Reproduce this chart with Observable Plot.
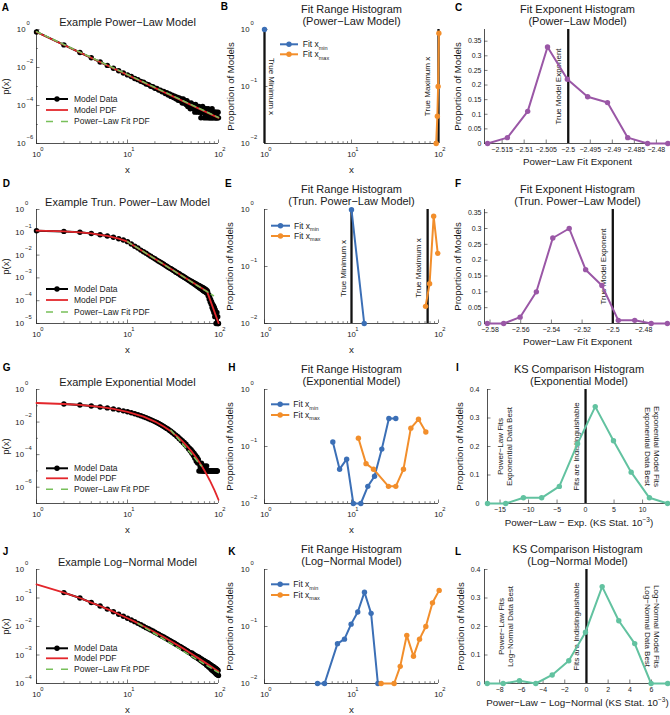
<!DOCTYPE html>
<html><head><meta charset="utf-8">
<script src="https://cdn.jsdelivr.net/npm/d3@7"></script>
<script src="https://cdn.jsdelivr.net/npm/@observablehq/plot@0.6"></script>
<style>
html,body{margin:0;padding:0;background:#fff;overflow:hidden;}
#fig{position:relative;width:670px;height:715px;overflow:hidden;background:#fff;}
</style></head><body><div id="fig"></div>
<script>
// ---------------- DATA ----------------
const intX = d3.range(1, 101); // bin x = 1..100

// A: power-law model (log10 p), null = empty bin
const aLogP = [-0.13,-0.81,-1.21,-1.49,-1.71,-1.89,-2.04,-2.17,-2.29,-2.39,
-2.47,-2.58,-2.64,-2.73,-2.78,-2.87,-2.90,-2.99,-3.01,-3.09,
-3.10,-3.19,-3.19,-3.28,-3.26,-3.37,-3.33,-3.45,-3.39,-3.52,
-3.46,-3.58,-3.51,-3.65,-3.56,-3.72,-3.60,-3.75,-3.65,-3.87,
-3.65,-3.87,-3.75,-3.95,-3.75,-4.05,-3.87,-3.95,-4.17,-3.87,
-4.05,-3.95,-4.17,-4.05,-4.35,-3.95,-4.17,-4.05,-4.35,-4.17,
-4.05,-4.35,-4.17,-4.65,-4.17,-4.35,-4.05,-4.35,-4.65,-4.17,
-4.35,-4.65,-4.17,-4.35,-4.65,-4.35,-4.17,-4.65,-4.35,-4.65,
-4.35,-4.65,-4.35,-4.65,-4.17,-4.65,-4.35,-4.65,null,-4.35,
-4.65,-4.35,-4.65,-4.65,-4.35,-4.65,null,-4.65,-4.35,-4.65];
const aPdfX = [1, 100], aPdfLogP = [-0.13, -4.65];
const aFitX = [1, 100], aFitLogP = [-0.11, -4.63];

// D: truncated power-law model
const dLogP = [-0.93,-0.96,-1.00,-1.05,-1.11,-1.16,-1.22,-1.28,-1.34,-1.41,
-1.51,-1.61,-1.69,-1.78,-1.85,-1.92,-1.99,-2.05,-2.11,-2.16,
-2.22,-2.27,-2.31,-2.36,-2.40,-2.45,-2.49,-2.53,-2.57,-2.60,
-2.63,-2.68,-2.70,-2.75,-2.76,-2.81,-2.82,-2.87,-2.88,-2.93,
-2.93,-2.98,-2.98,-3.03,-3.03,-3.08,-3.08,-3.13,-3.12,-3.18,
-3.16,-3.22,-3.20,-3.27,-3.23,-3.31,-3.27,-3.36,-3.31,-3.40,
-3.33,-3.44,-3.36,-3.48,-3.40,-3.52,-3.42,-3.56,-3.45,-3.60,
-3.48,-3.62,-3.52,-3.66,-3.56,-3.62,-3.78,-3.74,-3.92,-3.85,
-4.05,-3.96,-4.15,-4.05,-4.30,-4.15,-4.40,-4.22,-4.52,-4.30,
-4.70,-4.40,-4.52,-5.00,-4.70,-4.52,-5.00,-4.70,-5.00,-5.00];
const dPdfX = [1,2,3,4,5,6,7,8,9,10,75,100];
const dPdfLogP = [-0.93,-0.96,-1.00,-1.05,-1.11,-1.16,-1.22,-1.28,-1.34,-1.41,-3.60,-4.98];
const dFitX = [10, 88], dFitLogP = [-1.41, -3.78];

// G: exponential model
const gLogP = [null,-0.89,-0.95,-1.01,-1.07,-1.13,-1.19,-1.25,-1.31,-1.37,
-1.43,-1.49,-1.55,-1.61,-1.67,-1.73,-1.79,-1.85,-1.91,-1.97,
-2.03,-2.09,-2.15,-2.21,-2.27,-2.33,-2.39,-2.44,-2.52,-2.56,
-2.64,-2.68,-2.77,-2.80,-2.89,-2.91,-3.02,-3.03,-3.14,-3.15,
-3.27,-3.25,-3.40,-3.36,-3.52,-3.49,-3.65,-3.60,-3.77,-3.70,
-3.92,-3.82,-4.05,-3.92,-4.22,-4.05,-4.40,-4.15,-4.52,-4.30,
-5.00,-4.52,-4.70,-5.00,-4.52,-5.00,-4.70,-5.00,-5.00,-4.70,
-5.00,-5.00,null,-4.70,-5.00,null,-5.00,-5.00,null,-5.00,
-5.00,null,-5.00,-5.00,null,-5.00,null,-5.00,-5.00,null,
-5.00,null,-5.00,null,-5.00,-5.00,-5.00,null,null,null];
const gPdfX = [1,2,3,5,7,10,15,20,25,30,35,40,45,50,55,60,65,70,75,80,85,90,95,100];
const gPdfLogP = [-0.83,-0.89,-0.95,-1.07,-1.19,-1.37,-1.67,-1.97,-2.27,-2.57,-2.87,-3.17,-3.47,-3.77,-4.07,-4.37,-4.67,-4.97,-5.27,-5.57,-5.87,-6.17,-6.47,-6.77];
const gFitX = [30, 65], gFitLogP = [-2.50, -4.70];

// J: log-normal model
const jLogP = [null,-0.81,-1.00,-1.16,-1.28,-1.39,-1.48,-1.57,-1.64,-1.71,
-1.77,-1.83,-1.89,-1.94,-1.99,-2.04,-2.08,-2.12,-2.16,-2.20,
-2.24,-2.27,-2.31,-2.34,-2.37,-2.40,-2.43,-2.46,-2.49,-2.52,
-2.54,-2.57,-2.59,-2.62,-2.64,-2.67,-2.69,-2.71,-2.73,-2.75,
-2.78,-2.79,-2.82,-2.83,-2.86,-2.87,-2.90,-2.91,-2.93,-2.95,
-2.93,-3.00,-2.97,-3.04,-3.01,-3.07,-3.03,-3.10,-3.06,-3.13,
-3.08,-3.16,-3.12,-3.20,-3.14,-3.22,-3.17,-3.26,-3.19,-3.29,
-3.22,-3.31,-3.24,-3.36,-3.26,-3.38,-3.28,-3.42,-3.31,-3.44,
-3.33,-3.48,-3.36,-3.52,-3.38,-3.54,-3.40,-3.57,-3.42,-3.60,
-3.45,-3.62,-3.46,-3.66,-3.49,-3.68,-3.52,-3.70,-3.54,-3.72];
const jPdfX = [1,2,3,4,5,6,7,8,9,10,12,15,20,25,30,40,50,60,70,80,90,100];
const jPdfLogP = [-0.52,-0.81,-1.00,-1.16,-1.28,-1.39,-1.48,-1.57,-1.64,-1.71,-1.83,-1.99,-2.20,-2.37,-2.52,-2.75,-2.95,-3.11,-3.25,-3.37,-3.48,-3.58];
const jFitX = [13, 100], jFitLogP = [-1.89, -3.62];

// Fit range histograms
const bMinX = [1], bMinP = [1];
const bMaxX = [94, 97, 99, 101], bMaxP = [0.01, 0.03, 0.10, 0.86];
const eMinX = [10, 14], eMinP = [0.99, 0.01];
const eMaxX = [71, 79, 88, 98], eMaxP = [0.02, 0.05, 0.76, 0.17];
const hMinX = [6.1, 7.3, 8.8, 10.5, 12.8, 15.4, 18.4, 22.3, 26.9, 32.3];
const hMinP = [0.12, 0.04, 0.06, 0.01, 0.01, 0.02, 0.03, 0.09, 0.31, 0.31];
const hMaxX = [12.0, 14.7, 17.9, 26.6, 32.3, 39.6, 48.1, 58.9, 71.5];
const hMaxP = [0.14, 0.05, 0.04, 0.02, 0.02, 0.04, 0.21, 0.30, 0.18];
const kMinX = [4.07, 4.9, 6.9, 8.3, 9.9, 11.8, 14.1, 16.8, 20.1];
const kMinP = [0.01, 0.01, 0.05, 0.06, 0.11, 0.18, 0.40, 0.17, 0.01];
const kMaxX = [21.9, 30.9, 36.3, 43.2, 51.6, 60.5, 71.5, 85.3, 101.8];
const kMaxP = [0.01, 0.01, 0.02, 0.07, 0.03, 0.06, 0.10, 0.26, 0.43];

// Exponent histograms
const cX = [-2.5183,-2.5138,-2.5092,-2.5047,-2.5002,-2.4956,-2.4911,-2.4865,-2.482,-2.4774];
const cP = [0, 0.02, 0.11, 0.33, 0.22, 0.16, 0.14, 0.02, 0, 0];
const fX = [-2.5818,-2.5711,-2.5604,-2.5498,-2.5391,-2.5284,-2.5177,-2.5071,-2.4964,-2.4857,-2.475,-2.4644];
const fP = [0, 0, 0.02, 0.10, 0.27, 0.30, 0.17, 0.12, 0.01, 0.01, 0, 0];

// KS comparison histograms
const iX = [-17.2,-14.0,-10.9,-7.7,-4.6,-1.4,1.7,4.9,8.0,11.2,14.4];
const iP = [0, 0, 0.02, 0.02, 0.06, 0.21, 0.34, 0.22, 0.11, 0.02, 0];
const lX = [-9.15,-7.68,-6.18,-4.67,-3.16,-1.63,-0.09,1.45,2.98,4.45,5.96,7.49];
const lP = [0, 0, 0.01, 0, 0.03, 0.08, 0.18, 0.34, 0.22, 0.14, 0, 0];

// Tick labels
const logMajorX = [1, 10, 100];
const logMinorX = [2,3,4,5,6,7,8,9,20,30,40,50,60,70,80,90];
const cTicksX = [-2.515,-2.51,-2.505,-2.5,-2.495,-2.49,-2.485,-2.48];
const fTicksX = [-2.58,-2.56,-2.54,-2.52,-2.5,-2.48];
const expTicksY = [0,0.05,0.1,0.15,0.2,0.25,0.3,0.35];
const iTicksX = [-15,-10,-5,0,5,10];
const lTicksX = [-8,-6,-4,-2,0,2,4,6];
const ksTicksY = [0,0.1,0.2,0.3,0.4];

// ---------------- STYLE ----------------
const FONT = '"Liberation Sans", Arial, Helvetica, sans-serif';
const BLUE = "#3b6fb6", ORANGE = "#f28e2b", PURPLE = "#9a57a6", TEAL = "#62c2a0";
const RED = "#e3262b", GREEN = "#78c05a", AX = "#262626", TXT = "#1a1a1a";
const COLS = [{left:0,width:220,ml:36,mr:2},{left:220,width:220,ml:44,mr:2},{left:440,width:230,ml:44,mr:0}];
const ROWS = [0, 180, 360, 540];
const MT = 29, MB = 37, H = 180, PH = H - MT - MB;
const fig = document.getElementById("fig");

const zip = (xs, ys) => xs.map((x, i) => ({x, y: ys[i]}));
const zipLog = (xs, ls) => xs.map((x, i) => ({x, y: ls[i] == null ? null : Math.pow(10, ls[i])})).filter(d => d.y != null);
const expo = v => { const e = Math.round(Math.log10(v)); return e < 0 ? "\u2212" + (-e) : String(e); };
const fmt = d3.format("");

function axisLines(x0, y0) {
  return [Plot.ruleX([x0], {stroke: AX, strokeWidth: 0.8}), Plot.ruleY([y0], {stroke: AX, strokeWidth: 0.8})];
}
function logXAxis() {
  return [
    Plot.tickX(logMinorX, {x: d => d, insetTop: PH - 1.8, stroke: AX, strokeWidth: 0.6}),
    Plot.tickX(logMajorX, {x: d => d, insetTop: PH - 3.5, stroke: AX, strokeWidth: 0.6}),
    Plot.text(logMajorX, {x: d => d, frameAnchor: "bottom", dy: 13.7, text: () => "10", fontSize: 7.8, fill: TXT}),
    Plot.text(logMajorX, {x: d => d, frameAnchor: "bottom", dy: 7.7, dx: 3.8, textAnchor: "start", text: expo, fontSize: 5.8, fill: TXT})
  ];
}
function logYAxis(major, minor, gap, pw) {
  return [
    Plot.tickY(minor, {y: d => d, insetRight: pw - 1.8, stroke: AX, strokeWidth: 0.6}),
    Plot.tickY(major, {y: d => d, insetRight: pw - 3.5, stroke: AX, strokeWidth: 0.6}),
    Plot.text(major, {y: d => d, frameAnchor: "left", dx: -gap, textAnchor: "end", text: () => "10", fontSize: 7.8, fill: TXT}),
    Plot.text(major, {y: d => d, frameAnchor: "left", dx: -gap + 1, dy: -6.5, textAnchor: "start", text: expo, fontSize: 5.8, fill: TXT})
  ];
}
function linXAxis(ticks) {
  return [
    Plot.tickX(ticks, {x: d => d, insetTop: PH - 3.5, stroke: AX, strokeWidth: 0.6}),
    Plot.text(ticks, {x: d => d, frameAnchor: "bottom", dy: 8.7, text: fmt, fontSize: 7, fill: TXT})
  ];
}
function linYAxis(ticks, gap, pw) {
  return [
    Plot.tickY(ticks, {y: d => d, insetRight: pw - 3.5, stroke: AX, strokeWidth: 0.6}),
    Plot.text(ticks, {y: d => d, frameAnchor: "left", dx: -gap, textAnchor: "end", text: fmt, fontSize: 7, fill: TXT})
  ];
}
function title1(t) { return Plot.text([t], {frameAnchor: "top", dy: -11.5, text: d => d, fontSize: 11, fill: TXT}); }
function title2(t1, t2) {
  return [Plot.text([t1], {frameAnchor: "top", dy: -24, text: d => d, fontSize: 11, fill: TXT}),
          Plot.text([t2], {frameAnchor: "top", dy: -12, text: d => d, fontSize: 11, fill: TXT})];
}
function xLabel(t, dy) { return Plot.text([t], {frameAnchor: "bottom", dy, text: d => d, fontSize: 9.8, fill: TXT}); }
function yLabel(t, dx) { return Plot.text([t], {frameAnchor: "left", dx, rotate: -90, textAnchor: "middle", text: d => d, fontSize: 9.6, fill: TXT}); }

function supify(svg) {
  svg.querySelectorAll("text").forEach(t => {
    if (t.children.length === 0 && t.textContent.includes("^{")) {
      const m = t.textContent.match(/^(.*)\^\{(.*)\}(.*)$/);
      t.textContent = "";
      const ns = "http://www.w3.org/2000/svg";
      const a = document.createElementNS(ns, "tspan"); a.textContent = m[1]; t.appendChild(a);
      const b = document.createElementNS(ns, "tspan"); b.textContent = m[2]; b.setAttribute("dy", "-4"); b.setAttribute("font-size", "6.5"); t.appendChild(b);
      const c = document.createElementNS(ns, "tspan"); c.textContent = m[3]; c.setAttribute("dy", "4"); t.appendChild(c);
    }
  });
}

function panel(col, row, xs, ys, marksFn, ml) {
  const c = COLS[col];
  const mL = ml ?? c.ml;
  const pw = c.width - mL - c.mr;
  const svg = Plot.plot({
    width: c.width, height: H,
    marginLeft: mL, marginRight: c.mr, marginTop: MT, marginBottom: MB,
    x: {...xs, axis: null}, y: {...ys, axis: null},
    style: `font-family: ${FONT}; background: transparent; overflow: visible;`,
    marks: marksFn(pw)
  });
  svg.style.position = "absolute";
  svg.style.left = c.left + "px";
  svg.style.top = ROWS[row] + "px";
  supify(svg);
  fig.appendChild(svg);
}

const LOGX = {type: "log", domain: [1, 100]};

function dataMarks(logP, pdfX, pdfLogP, fitX, fitLogP) {
  const data = zipLog(intX, logP);
  return [
    Plot.line(data, {x: "x", y: "y", stroke: "#000", strokeWidth: 2}),
    Plot.dot(data, {x: "x", y: "y", fill: "#000", r: 2.7}),
    Plot.line(zipLog(pdfX, pdfLogP), {x: "x", y: "y", stroke: RED, strokeWidth: 1.8}),
    Plot.line(zipLog(fitX, fitLogP), {x: "x", y: "y", stroke: GREEN, strokeWidth: 1.5, strokeDasharray: "5,4"})
  ];
}
function rangeMarks(minX, minP, maxX, maxP) {
  return [
    Plot.line(zip(minX, minP), {x: "x", y: "y", stroke: BLUE, strokeWidth: 2}),
    Plot.dot(zip(minX, minP), {x: "x", y: "y", fill: BLUE, r: 2.7}),
    Plot.line(zip(maxX, maxP), {x: "x", y: "y", stroke: ORANGE, strokeWidth: 2}),
    Plot.dot(zip(maxX, maxP), {x: "x", y: "y", fill: ORANGE, r: 2.7})
  ];
}
function vText(xv, t, rotate, dx, dy = 0) {
  return Plot.text([xv], {x: d => d, text: () => t, rotate, dx, dy, fontSize: 8, lineHeight: 1.17, fill: TXT});
}
const trueLine = v => Plot.ruleX([v], {stroke: "#111", strokeWidth: 2.3});

// ---- Row 1 ----
panel(0, 0, LOGX, {type: "log", domain: [1e-6, 1]}, pw => [
  ...axisLines(1, 1e-6), ...logXAxis(), ...logYAxis([1, 1e-2, 1e-4, 1e-6], [1e-1, 1e-3, 1e-5], 11, pw),
  ...dataMarks(aLogP, aPdfX, aPdfLogP, aFitX, aFitLogP),
  title1("Example Power\u2212Law Model"), xLabel("x", 29), yLabel("p(x)", -31)
]);
panel(1, 0, LOGX, {type: "log", domain: [0.01, 1]}, pw => [
  ...axisLines(1, 0.01), ...logXAxis(), ...logYAxis([1, 0.1, 0.01], [], 15, pw),
  trueLine(1), trueLine(100),
  vText(1, "True Minimum x", 90, 7.7), vText(100, "True Maximum x", -90, -12),
  ...rangeMarks(bMinX, bMinP, bMaxX, bMaxP),
  ...title2("Fit Range Histogram", "(Power\u2212Law Model)"), xLabel("x", 29), yLabel("Proportion of Models", -34)
]);
panel(2, 0, {domain: [-2.519, -2.4768]}, {domain: [0, 0.39]}, pw => [
  ...axisLines(-2.519, 0), ...linXAxis(cTicksX), ...linYAxis(expTicksY, 3, pw),
  trueLine(-2.5), vText(-2.5, "True Model Exponent", -90, -10),
  Plot.line(zip(cX, cP), {x: "x", y: "y", stroke: PURPLE, strokeWidth: 2}),
  Plot.dot(zip(cX, cP), {x: "x", y: "y", fill: PURPLE, r: 2.7}),
  ...title2("Fit Exponent Histogram", "(Power\u2212Law Model)"), xLabel("Power\u2212Law Fit Exponent", 21), yLabel("Proportion of Models", -27)
]);

// ---- Row 2 ----
panel(0, 1, LOGX, {type: "log", domain: [1e-5, 1]}, pw => [
  ...axisLines(1, 1e-5), ...logXAxis(), ...logYAxis([1, 1e-1, 1e-2, 1e-3, 1e-4, 1e-5], [], 12.5, pw),
  ...dataMarks(dLogP, dPdfX, dPdfLogP, dFitX, dFitLogP),
  title1("Example Trun. Power\u2212Law Model"), xLabel("x", 29), yLabel("p(x)", -31)
]);
panel(1, 1, LOGX, {type: "log", domain: [0.01, 1]}, pw => [
  ...axisLines(1, 0.01), ...logXAxis(), ...logYAxis([1, 0.1, 0.01], [], 15, pw),
  trueLine(10), trueLine(75),
  vText(10, "True Minimum x", -90, -9, 2), vText(75, "True Maximum x", -90, -9.4, 1.5),
  ...rangeMarks(eMinX, eMinP, eMaxX, eMaxP),
  ...title2("Fit Range Histogram", "(Trun. Power\u2212Law Model)"), xLabel("x", 29), yLabel("Proportion of Models", -34.5)
]);
panel(2, 1, {domain: [-2.5836, -2.4624]}, {domain: [0, 0.36]}, pw => [
  ...axisLines(-2.5836, 0), ...linXAxis(fTicksX), ...linYAxis(expTicksY, 3, pw),
  trueLine(-2.5), vText(-2.5, "True Model Exponent", -90, -10),
  Plot.line(zip(fX, fP), {x: "x", y: "y", stroke: PURPLE, strokeWidth: 2}),
  Plot.dot(zip(fX, fP), {x: "x", y: "y", fill: PURPLE, r: 2.7}),
  ...title2("Fit Exponent Histogram", "(Trun. Power\u2212Law Model)"), xLabel("Power\u2212Law Fit Exponent", 21), yLabel("Proportion of Models", -27)
]);

// ---- Row 3 ----
panel(0, 2, LOGX, {type: "log", domain: [1e-7, 1]}, pw => [
  ...axisLines(1, 1e-7), ...logXAxis(), ...logYAxis([1, 1e-2, 1e-4, 1e-6], [1e-1, 1e-3, 1e-5, 1e-7], 12.5, pw),
  ...dataMarks(gLogP, gPdfX, gPdfLogP, gFitX, gFitLogP),
  title1("Example Exponential Model"), xLabel("x", 29), yLabel("p(x)", -31)
]);
panel(1, 2, LOGX, {type: "log", domain: [0.01, 1]}, pw => [
  ...axisLines(1, 0.01), ...logXAxis(), ...logYAxis([1, 0.1, 0.01], [], 15, pw),
  ...rangeMarks(hMinX, hMinP, hMaxX, hMaxP),
  ...title2("Fit Range Histogram", "(Exponential Model)"), xLabel("x", 29), yLabel("Proportion of Models", -34.5)
]);
panel(2, 2, {domain: [-17.2, 14.9]}, {domain: [0, 0.4]}, pw => [
  ...axisLines(-17.2, 0), ...linXAxis(iTicksX), ...linYAxis(ksTicksY, 8, pw),
  trueLine(0),
  vText(-14.2, "Power\u2212Law Fits\nExponential Data Best", -90, 0),
  vText(0, "Fits are Indistinguishable", -90, -9.5),
  vText(11.7, "Exponential Model Fits\nExponential Data Best", 90, 0),
  Plot.line(zip(iX, iP), {x: "x", y: "y", stroke: TEAL, strokeWidth: 2}),
  Plot.dot(zip(iX, iP), {x: "x", y: "y", fill: TEAL, r: 2.7}),
  ...title2("KS Comparison Histogram", "(Exponential Model)"),
  xLabel("Power\u2212Law \u2212 Exp. (KS Stat. 10^{\u22123})", 22), yLabel("Proportion of Models", -28)
], 47);

// ---- Row 4 ----
panel(0, 3, LOGX, {type: "log", domain: [1e-4, 1]}, pw => [
  ...axisLines(1, 1e-4), ...logXAxis(), ...logYAxis([1, 1e-1, 1e-2, 1e-3, 1e-4], [], 12.5, pw),
  ...dataMarks(jLogP, jPdfX, jPdfLogP, jFitX, jFitLogP),
  title1("Example Log\u2212Normal Model"), xLabel("x", 29), yLabel("p(x)", -31)
]);
panel(1, 3, LOGX, {type: "log", domain: [0.01, 1]}, pw => [
  ...axisLines(1, 0.01), ...logXAxis(), ...logYAxis([1, 0.1, 0.01], [], 15, pw),
  ...rangeMarks(kMinX, kMinP, kMaxX, kMaxP),
  ...title2("Fit Range Histogram", "(Log\u2212Normal Model)"), xLabel("x", 29), yLabel("Proportion of Models", -34.5)
]);
panel(2, 3, {domain: [-9.4, 7.75]}, {domain: [0, 0.4]}, pw => [
  ...axisLines(-9.4, 0), ...linXAxis(lTicksX), ...linYAxis(ksTicksY, 4, pw),
  trueLine(0),
  vText(-7.45, "Power\u2212Law Fits\nLog\u2212Normal Data Best", -90, 0),
  vText(0, "Fits are Indistinguishable", -90, -10),
  vText(6.1, "Log\u2212Normal Model Fits\nLog\u2212Normal Data Best", 90, 0),
  Plot.line(zip(lX, lP), {x: "x", y: "y", stroke: TEAL, strokeWidth: 2}),
  Plot.dot(zip(lX, lP), {x: "x", y: "y", fill: TEAL, r: 2.7}),
  ...title2("KS Comparison Histogram", "(Log\u2212Normal Model)"),
  xLabel("Power\u2212Law \u2212 Log\u2212Normal (KS Stat. 10^{\u22123})", 22), yLabel("Proportion of Models", -24)
], 44);

// ---------------- LEGENDS & PANEL LETTERS ----------------
const ov = d3.create("svg").attr("width", 670).attr("height", 715)
  .style("position", "absolute").style("left", "0px").style("top", "0px")
  .style("font-family", FONT).style("pointer-events", "none");

const dataLegendRows = [[99, 110, 121.5], [289, 300, 312], [468.3, 478.3, 489.3], [648.3, 658.3, 669.3]];
const dataLegendLabels = ["Model Data", "Model PDF", "Power\u2212Law Fit PDF"];
dataLegendRows.forEach(rows => {
  const g = ov.append("g");
  g.append("line").attr("x1", 46).attr("x2", 68).attr("y1", rows[0]).attr("y2", rows[0]).attr("stroke", "#000").attr("stroke-width", 2);
  g.append("circle").attr("cx", 57).attr("cy", rows[0]).attr("r", 2.7).attr("fill", "#000");
  g.append("line").attr("x1", 46).attr("x2", 68).attr("y1", rows[1]).attr("y2", rows[1]).attr("stroke", RED).attr("stroke-width", 1.8);
  g.append("line").attr("x1", 46).attr("x2", 68).attr("y1", rows[2]).attr("y2", rows[2]).attr("stroke", GREEN).attr("stroke-width", 1.5).attr("stroke-dasharray", "7,8");
  rows.forEach((y, i) => g.append("text").attr("x", 74).attr("y", y).attr("dy", "0.35em").attr("font-size", 8.5).attr("fill", TXT).text(dataLegendLabels[i]));
});

const rangeLegends = [
  {x1: 280, x2: 298, tx: 302.7, rows: [44.3, 54.3]},
  {x1: 271, x2: 290, tx: 294, rows: [225.7, 236]},
  {x1: 271, x2: 289.3, tx: 293.3, rows: [404.3, 415]},
  {x1: 271, x2: 289.3, tx: 293.3, rows: [584.3, 595]}
];
const rangeSubs = ["min", "max"], rangeCols = [BLUE, ORANGE];
rangeLegends.forEach(L => {
  L.rows.forEach((y, i) => {
    ov.append("line").attr("x1", L.x1).attr("x2", L.x2).attr("y1", y).attr("y2", y).attr("stroke", rangeCols[i]).attr("stroke-width", 2);
    ov.append("circle").attr("cx", (L.x1 + L.x2) / 2).attr("cy", y).attr("r", 2.7).attr("fill", rangeCols[i]);
    const t = ov.append("text").attr("x", L.tx).attr("y", y).attr("dy", "0.35em").attr("font-size", 8.5).attr("fill", TXT);
    t.append("tspan").text("Fit x");
    t.append("tspan").attr("dy", 2.5).attr("font-size", 5.5).text(rangeSubs[i]);
  });
});

const letters = ["A","B","C","D","E","F","G","H","I","J","K","L"];
const letterPos = [[1.7,10.7],[220.7,10.2],[455,10.7],[2.7,187.3],[225,186.7],[455,187.3],[2.7,370.7],[228.3,370.7],[456,370.7],[2.7,555],[228.3,555],[455,555]];
letters.forEach((l, i) => ov.append("text").attr("x", letterPos[i][0]).attr("y", letterPos[i][1])
  .attr("font-size", 10).attr("font-weight", "bold").attr("fill", "#000").text(l));

fig.appendChild(ov.node());
</script></body></html>
